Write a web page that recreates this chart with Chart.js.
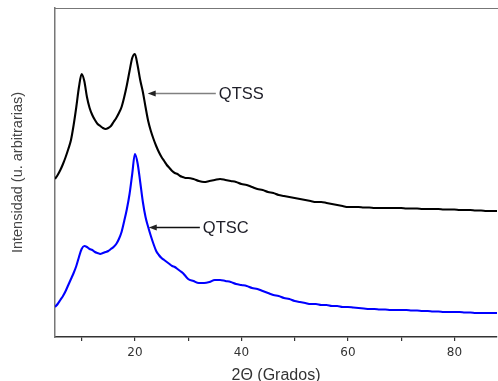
<!DOCTYPE html>
<html><head><meta charset="utf-8">
<script src="https://cdn.jsdelivr.net/npm/chart.js@4"></script>
<style>html,body{margin:0;padding:0;background:#fff}#wrap{width:498px;height:381px}</style>
</head><body><div id="wrap"><canvas id="c" width="498" height="381"></canvas></div>
<script>
const twoTheta = [5,5.5,6,6.5,7,7.5,8,8.5,9,9.5,10,10.5,11,11.5,12,12.5,13,13.5,14,14.5,15,15.5,16,16.5,17,17.5,18,18.5,19,19.5,20,20.5,21,21.5,22,22.5,23,23.5,24,24.5,25,25.5,26,26.5,27,27.5,28,28.5,29,29.5,30,
31,32,33,34,35,36,37,38,39,40,41,42,43,44,45,46,47,48,49,50,51,52,53,54,55,56,57,58,59,60,61,62,63,64,65,66,67,68,69,70,71,72,73,74,75,76,77,78,79,80,81,82,83,84,85,86,87,88];
const qtss = [158,162,167,173,180,188,197,212,230,250,263,256,240,229,222,217,213,211,209,208,209,211,215,219,224,230,240,252,266,279,283,272,257,245,230,216,206,198,191,185,180,176,172,169,166,164,163,161,160,159,159,
158,156,155,156,157,158,157,156,155,153,152,150,148,147,145,144,142,141,140,139,138,137,136,135,135,134,133,132,131,130,130,130,129.5,129.5,129,129,129,129,129,129,128.5,128.5,128.5,128,128,128,128,127.5,127.5,127.5,127,127,127,126.5,126.5,126,126,126];
const qtsc = [30,33,37,41,46,52,58,64,71,80,88,91,90,88,87,85,84,83,84,85,86,88,90,93,98,105,116,128,143,163,183,174,155,135,120,110,101,93,86,82,79,77,75,73,71,70,68,66,64,61,58,
56,54,54,55,57,57,56,55,53,52,51,49,48,46,44,42,41,39,38,36,35,34,33,33,32,32,31,31,30,30,29.5,29,28.5,28,28,27.5,27.5,27,27,27,27,26.5,26.5,26,26,25.5,25.5,25,25,25,25,24.5,24.5,24,24,24,24,24];
const xTickValues = [10,20,30,40,50,60,70,80];
const xTickLabels = ['','20','','40','','60','','80'];
const seriesNames = ['QTSS','QTSC'];
const seriesColors = ['#000000','#0000ff'];
const labelTipX = [22.4, 22.6];
const labelTipY = [244, 110];
const labelLineEndX = [35.2, 32.2];
const labelLineColors = ['#808080','#111111'];

const arrowPlugin = {
  id:'arrows',
  afterDatasetsDraw(chart){
    const ctx = chart.ctx, xs = chart.scales.x, ys = chart.scales.y;
    seriesNames.forEach((name,i)=>{
      const tx = xs.getPixelForValue(labelTipX[i]);
      const ty = Math.round(ys.getPixelForValue(labelTipY[i])) + 0.5;
      const ex = xs.getPixelForValue(labelLineEndX[i]);
      ctx.save();
      ctx.strokeStyle = labelLineColors[i];
      ctx.lineWidth = 1.3;
      ctx.beginPath(); ctx.moveTo(tx+5, ty); ctx.lineTo(ex, ty); ctx.stroke();
      ctx.fillStyle = '#222';
      ctx.beginPath(); ctx.moveTo(tx, ty); ctx.lineTo(tx+8, ty-3); ctx.lineTo(tx+8, ty+3); ctx.closePath(); ctx.fill();
      ctx.font = '16.5px "Liberation Sans", Arial, sans-serif';
      ctx.textBaseline = 'middle';
      ctx.fillStyle = '#1e1e28';
      ctx.fillText(name, ex + 3, ty + 0.5);
      ctx.restore();
    });
  },
  afterDraw(chart){
    const ctx = chart.ctx, a = chart.chartArea;
    ctx.save();
    ctx.strokeStyle = '#777';
    ctx.lineWidth = 1.2;
    ctx.beginPath(); ctx.moveTo(a.left, a.top + 0.5); ctx.lineTo(chart.width, a.top + 0.5); ctx.stroke();
    ctx.restore();
  }
};

new Chart(document.getElementById('c'), {
  type:'line',
  data:{
    datasets: seriesNames.map((n,i)=>({
      label:n,
      data: twoTheta.map((x,j)=>({x:x, y:(i===0?qtss:qtsc)[j]})),
      borderColor: seriesColors[i],
      borderWidth: 2.1,
      pointRadius: 0,
      cubicInterpolationMode: 'monotone',
      fill:false
    }))
  },
  options:{
    responsive:false,
    devicePixelRatio:1,
    animation:false,
    layout:{padding:{top:8,right:1,left:0,bottom:0}},
    plugins:{legend:{display:false}, tooltip:{enabled:false}},
    scales:{
      x:{
        type:'linear', min:5, max:88,
        afterBuildTicks: s => { s.ticks = xTickValues.map(v=>({value:v})); },
        afterFit: s => { s.height = 44; },
        ticks:{callback:(v,i)=>xTickLabels[i], autoSkip:false, maxRotation:0, padding:5, color:'#333', font:{family:'"DejaVu Sans", Verdana, sans-serif', size:12}},
        grid:{drawOnChartArea:false, drawTicks:true, tickLength:4, color:'#333', lineWidth:1.2},
        border:{display:true, color:'#333', width:1.5},
        title:{display:true, text:'2Θ (Grados)', color:'#333', padding:{top:0,bottom:0.5}, font:{family:'"Liberation Sans", Arial, sans-serif', size:16, lineHeight:0.6}}
      },
      y:{
        min:0, max:329,
        afterFit: s => { s.width = 55; },
        ticks:{display:false},
        grid:{display:false},
        border:{display:true, color:'#777', width:1.5},
        title:{display:true, text:'Intensidad (u. arbitrarias)', color:'#444', padding:{top:9,bottom:0}, font:{family:'"Liberation Sans", Arial, sans-serif', size:14.5, lineHeight:1.2}}
      }
    }
  },
  plugins:[arrowPlugin]
});
</script>
</body></html>
